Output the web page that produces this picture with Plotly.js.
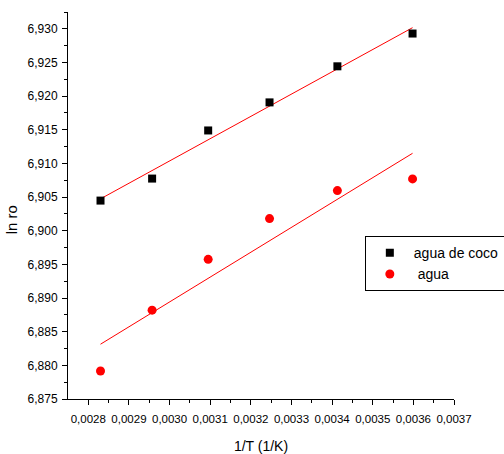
<!DOCTYPE html>
<html>
<head>
<meta charset="utf-8">
<script src="https://cdn.plot.ly/plotly-3.0.1.min.js"></script>
<style>
html,body{margin:0;padding:0;background:#fff;}
#chart{width:504px;height:454px;}
</style>
</head>
<body>
<div id="chart"></div>
<script>
// 1/T values (1/K)
var invT = [0.002830, 0.002957, 0.003095, 0.003246, 0.003413, 0.003598];
// ln ro, agua de coco
var lnCoco = [6.90448, 6.90775, 6.91490, 6.91907, 6.92443, 6.92930];
// ln ro, agua
var lnAgua = [6.87916, 6.88820, 6.89575, 6.90180, 6.90597, 6.90770];
var seriesNames = ["agua de coco", " agua"];

function linFit(x, y) {
  var n = x.length, mx = 0, my = 0;
  for (var i = 0; i < n; i++) { mx += x[i]; my += y[i]; }
  mx /= n; my /= n;
  var sxy = 0, sxx = 0;
  for (var j = 0; j < n; j++) { sxy += (x[j]-mx)*(y[j]-my); sxx += (x[j]-mx)*(x[j]-mx); }
  var b = sxy / sxx, a = my - b*mx;
  var x0 = Math.min.apply(null, x), x1 = Math.max.apply(null, x);
  return {x: [x0, x1], y: [a + b*x0, a + b*x1]};
}
var fitCoco = linFit(invT, lnCoco);
var fitAgua = linFit(invT, lnAgua);

var traces = [
  {x: fitCoco.x, y: fitCoco.y, mode: 'lines', line: {color: '#ff0000', width: 1}, showlegend: false, hoverinfo: 'skip'},
  {x: fitAgua.x, y: fitAgua.y, mode: 'lines', line: {color: '#ff0000', width: 1}, showlegend: false, hoverinfo: 'skip'},
  {x: invT, y: lnCoco, mode: 'markers', name: seriesNames[0],
   marker: {symbol: 'square', size: 8, color: '#000000'}},
  {x: invT, y: lnAgua, mode: 'markers', name: seriesNames[1],
   marker: {symbol: 'circle', size: 9, color: '#ff0000'}}
];

var fnt = 'Liberation Sans, Arial, sans-serif';
var layout = {
  width: 504, height: 454,
  margin: {l: 68, r: 50, t: 12, b: 55, pad: 0, autoexpand: false},
  paper_bgcolor: '#ffffff', plot_bgcolor: '#ffffff',
  separators: ',.',
  font: {family: fnt, color: '#000000', size: 12},
  showlegend: true,
  legend: {
    x: 0.769, y: 0.4206, xanchor: 'left', yanchor: 'top',
    bordercolor: '#000000', borderwidth: 1, bgcolor: '#ffffff',
    font: {family: fnt, size: 14, color: '#000000'},
    itemwidth: 38,
    tracegroupgap: 0
  },
  xaxis: {
    range: [0.00275, 0.0037],
    tickvals: [0.0028, 0.0029, 0.0030, 0.0031, 0.0032, 0.0033, 0.0034, 0.0035, 0.0036, 0.0037],
    tickformat: '.4f',
    ticks: 'outside', ticklen: 5, tickwidth: 1, tickcolor: '#000000',
    ticklabelstandoff: 4,
    minor: {tickvals: [0.00285, 0.00295, 0.00305, 0.00315, 0.00325, 0.00335, 0.00345, 0.00355, 0.00365], ticks: 'outside', ticklen: 3, tickcolor: '#000000', showgrid: false},
    showline: true, linecolor: '#000000', linewidth: 1, mirror: false,
    showgrid: false, zeroline: false, automargin: false,
    tickfont: {family: fnt, size: 11.5, color: '#000000'},
    title: {text: '1/T (1/K)', font: {family: fnt, size: 14, color: '#000000'}, standoff: 19}
  },
  yaxis: {
    range: [6.875, 6.9325],
    tickvals: [6.875, 6.880, 6.885, 6.890, 6.895, 6.900, 6.905, 6.910, 6.915, 6.920, 6.925, 6.930],
    tickformat: '.3f',
    ticks: 'outside', ticklen: 5, tickwidth: 1, tickcolor: '#000000',
    ticklabelstandoff: 2,
    minor: {tickvals: [6.8775, 6.8825, 6.8875, 6.8925, 6.8975, 6.9025, 6.9075, 6.9125, 6.9175, 6.9225, 6.9275, 6.9325], ticks: 'outside', ticklen: 3, tickcolor: '#000000', showgrid: false},
    showline: true, linecolor: '#000000', linewidth: 1, mirror: false,
    showgrid: false, zeroline: false, automargin: false,
    tickfont: {family: fnt, size: 12, color: '#000000'}
  },
  annotations: [{
    text: 'ln ro', xref: 'paper', yref: 'paper', x: -0.1475, y: 0.462,
    xanchor: 'center', yanchor: 'middle', textangle: -90, showarrow: false,
    font: {family: fnt, size: 15, color: '#000000'}
  }]
};

Plotly.newPlot('chart', traces, layout, {staticPlot: true, displayModeBar: false});
</script>
</body>
</html>
